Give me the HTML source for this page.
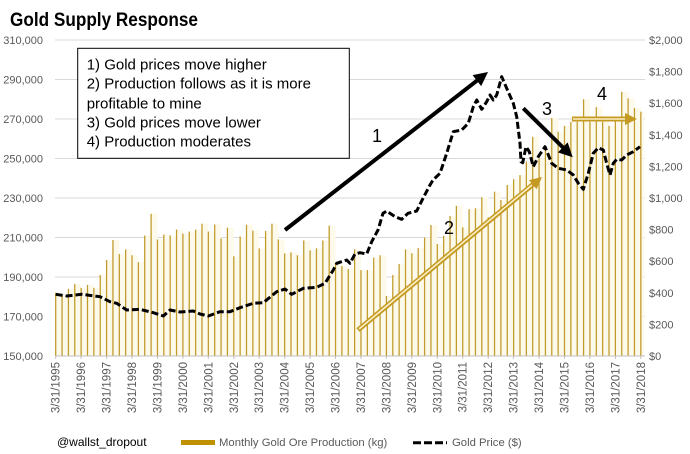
<!DOCTYPE html>
<html><head><meta charset="utf-8"><style>
html,body{margin:0;padding:0;background:#fff;}
svg{display:block;}
text{font-family:"Liberation Sans",sans-serif;}
</style></head><body>
<svg width="690" height="454" viewBox="0 0 690 454" xmlns="http://www.w3.org/2000/svg">
<rect width="690" height="454" fill="#fff"/>
<text x="10" y="26" font-size="19" font-weight="bold" fill="#000" textLength="188" lengthAdjust="spacingAndGlyphs">Gold Supply Response</text>
<g stroke="#d9d9d9" stroke-width="1">
<line x1="55" y1="40" x2="645" y2="40"/><line x1="55" y1="79.5" x2="645" y2="79.5"/><line x1="55" y1="119" x2="645" y2="119"/><line x1="55" y1="158.5" x2="645" y2="158.5"/><line x1="55" y1="198" x2="645" y2="198"/><line x1="55" y1="237.5" x2="645" y2="237.5"/><line x1="55" y1="277" x2="645" y2="277"/><line x1="55" y1="316.5" x2="645" y2="316.5"/><line x1="55" y1="356" x2="645" y2="356"/>
</g>
<g transform="translate(55.7,356) scale(6.36,-1.975)">
<g fill="#fefaeb">
<rect x="0" width="1" height="32"/><rect x="1" width="1" height="31"/><rect x="2" width="1" height="34"/><rect x="3" width="1" height="36.5"/><rect x="4" width="1" height="34.5"/><rect x="5" width="1" height="36"/><rect x="6" width="1" height="34.5"/><rect x="7" width="1" height="41"/><rect x="8" width="1" height="48.6"/><rect x="9" width="1" height="58.7"/><rect x="10" width="1" height="51.6"/><rect x="11" width="1" height="54"/><rect x="12" width="1" height="51"/><rect x="13" width="1" height="47.5"/><rect x="14" width="1" height="61"/><rect x="15" width="1" height="72"/><rect x="16" width="1" height="59"/><rect x="17" width="1" height="61.5"/><rect x="18" width="1" height="61"/><rect x="19" width="1" height="64"/><rect x="20" width="1" height="62"/><rect x="21" width="1" height="63"/><rect x="22" width="1" height="64"/><rect x="23" width="1" height="67"/><rect x="24" width="1" height="63"/><rect x="25" width="1" height="66.6"/><rect x="26" width="1" height="59.5"/><rect x="27" width="1" height="65"/><rect x="28" width="1" height="50.5"/><rect x="29" width="1" height="60.5"/><rect x="30" width="1" height="66.5"/><rect x="31" width="1" height="63.5"/><rect x="32" width="1" height="54.5"/><rect x="33" width="1" height="63.3"/><rect x="34" width="1" height="67"/><rect x="35" width="1" height="59"/><rect x="36" width="1" height="52"/><rect x="37" width="1" height="52.5"/><rect x="38" width="1" height="51"/><rect x="39" width="1" height="58.5"/><rect x="40" width="1" height="53.5"/><rect x="41" width="1" height="54.5"/><rect x="42" width="1" height="58.5"/><rect x="43" width="1" height="66"/><rect x="44" width="1" height="46.5"/><rect x="45" width="1" height="45.5"/><rect x="46" width="1" height="44"/><rect x="47" width="1" height="54"/><rect x="48" width="1" height="43.5"/><rect x="49" width="1" height="43.5"/><rect x="50" width="1" height="49.8"/><rect x="51" width="1" height="51"/><rect x="52" width="1" height="30.4"/><rect x="53" width="1" height="41"/><rect x="54" width="1" height="46.6"/><rect x="55" width="1" height="54"/><rect x="56" width="1" height="52"/><rect x="57" width="1" height="54.6"/><rect x="58" width="1" height="60"/><rect x="59" width="1" height="66.3"/><rect x="60" width="1" height="56.7"/><rect x="61" width="1" height="60.8"/><rect x="62" width="1" height="70.9"/><rect x="63" width="1" height="76"/><rect x="64" width="1" height="65.2"/><rect x="65" width="1" height="74.3"/><rect x="66" width="1" height="74.8"/><rect x="67" width="1" height="80.4"/><rect x="68" width="1" height="70.2"/><rect x="69" width="1" height="83.2"/><rect x="70" width="1" height="79"/><rect x="71" width="1" height="86.6"/><rect x="72" width="1" height="89.5"/><rect x="73" width="1" height="91.6"/><rect x="74" width="1" height="98.4"/><rect x="75" width="1" height="111"/><rect x="76" width="1" height="100"/><rect x="77" width="1" height="106"/><rect x="78" width="1" height="120.5"/><rect x="79" width="1" height="113.6"/><rect x="80" width="1" height="116.5"/><rect x="81" width="1" height="118.6"/><rect x="82" width="1" height="118.6"/><rect x="83" width="1" height="130"/><rect x="84" width="1" height="118.6"/><rect x="85" width="1" height="126"/><rect x="86" width="1" height="118.6"/><rect x="87" width="1" height="116.5"/><rect x="88" width="1" height="119.5"/><rect x="89" width="1" height="133.8"/><rect x="90" width="1" height="130.5"/><rect x="91" width="1" height="125.6"/><rect x="92" width="0.5" height="123.7"/>
</g>
<g fill="#c09a2a">
<rect x="-0.1" width="0.2" height="32"/><rect x="0.9" width="0.2" height="31"/><rect x="1.9" width="0.2" height="34"/><rect x="2.9" width="0.2" height="36.5"/><rect x="3.9" width="0.2" height="34.5"/><rect x="4.9" width="0.2" height="36"/><rect x="5.9" width="0.2" height="34.5"/><rect x="6.9" width="0.2" height="41"/><rect x="7.9" width="0.2" height="48.6"/><rect x="8.9" width="0.2" height="58.7"/><rect x="9.9" width="0.2" height="51.6"/><rect x="10.9" width="0.2" height="54"/><rect x="11.9" width="0.2" height="51"/><rect x="12.9" width="0.2" height="47.5"/><rect x="13.9" width="0.2" height="61"/><rect x="14.9" width="0.2" height="72"/><rect x="15.9" width="0.2" height="59"/><rect x="16.9" width="0.2" height="61.5"/><rect x="17.9" width="0.2" height="61"/><rect x="18.9" width="0.2" height="64"/><rect x="19.9" width="0.2" height="62"/><rect x="20.9" width="0.2" height="63"/><rect x="21.9" width="0.2" height="64"/><rect x="22.9" width="0.2" height="67"/><rect x="23.9" width="0.2" height="63"/><rect x="24.9" width="0.2" height="66.6"/><rect x="25.9" width="0.2" height="59.5"/><rect x="26.9" width="0.2" height="65"/><rect x="27.9" width="0.2" height="50.5"/><rect x="28.9" width="0.2" height="60.5"/><rect x="29.9" width="0.2" height="66.5"/><rect x="30.9" width="0.2" height="63.5"/><rect x="31.9" width="0.2" height="54.5"/><rect x="32.9" width="0.2" height="63.3"/><rect x="33.9" width="0.2" height="67"/><rect x="34.9" width="0.2" height="59"/><rect x="35.9" width="0.2" height="52"/><rect x="36.9" width="0.2" height="52.5"/><rect x="37.9" width="0.2" height="51"/><rect x="38.9" width="0.2" height="58.5"/><rect x="39.9" width="0.2" height="53.5"/><rect x="40.9" width="0.2" height="54.5"/><rect x="41.9" width="0.2" height="58.5"/><rect x="42.9" width="0.2" height="66"/><rect x="43.9" width="0.2" height="46.5"/><rect x="44.9" width="0.2" height="45.5"/><rect x="45.9" width="0.2" height="44"/><rect x="46.9" width="0.2" height="54"/><rect x="47.9" width="0.2" height="43.5"/><rect x="48.9" width="0.2" height="43.5"/><rect x="49.9" width="0.2" height="49.8"/><rect x="50.9" width="0.2" height="51"/><rect x="51.9" width="0.2" height="30.4"/><rect x="52.9" width="0.2" height="41"/><rect x="53.9" width="0.2" height="46.6"/><rect x="54.9" width="0.2" height="54"/><rect x="55.9" width="0.2" height="52"/><rect x="56.9" width="0.2" height="54.6"/><rect x="57.9" width="0.2" height="60"/><rect x="58.9" width="0.2" height="66.3"/><rect x="59.9" width="0.2" height="56.7"/><rect x="60.9" width="0.2" height="60.8"/><rect x="61.9" width="0.2" height="70.9"/><rect x="62.9" width="0.2" height="76"/><rect x="63.9" width="0.2" height="65.2"/><rect x="64.9" width="0.2" height="74.3"/><rect x="65.9" width="0.2" height="74.8"/><rect x="66.9" width="0.2" height="80.4"/><rect x="67.9" width="0.2" height="70.2"/><rect x="68.9" width="0.2" height="83.2"/><rect x="69.9" width="0.2" height="79"/><rect x="70.9" width="0.2" height="86.6"/><rect x="71.9" width="0.2" height="89.5"/><rect x="72.9" width="0.2" height="91.6"/><rect x="73.9" width="0.2" height="98.4"/><rect x="74.9" width="0.2" height="111"/><rect x="75.9" width="0.2" height="100"/><rect x="76.9" width="0.2" height="106"/><rect x="77.9" width="0.2" height="120.5"/><rect x="78.9" width="0.2" height="113.6"/><rect x="79.9" width="0.2" height="116.5"/><rect x="80.9" width="0.2" height="118.6"/><rect x="81.9" width="0.2" height="118.6"/><rect x="82.9" width="0.2" height="130"/><rect x="83.9" width="0.2" height="118.6"/><rect x="84.9" width="0.2" height="126"/><rect x="85.9" width="0.2" height="118.6"/><rect x="86.9" width="0.2" height="116.5"/><rect x="87.9" width="0.2" height="119.5"/><rect x="88.9" width="0.2" height="133.8"/><rect x="89.9" width="0.2" height="130.5"/><rect x="90.9" width="0.2" height="125.6"/><rect x="91.9" width="0.2" height="123.7"/>
</g>
</g>
<!-- x ticks -->
<g stroke="#bfbfbf" stroke-width="1">
<line x1="55" y1="356" x2="645" y2="356"/>
<line x1="55.7" y1="356" x2="55.7" y2="359"/><line x1="81.1" y1="356" x2="81.1" y2="359"/><line x1="106.6" y1="356" x2="106.6" y2="359"/><line x1="132" y1="356" x2="132" y2="359"/><line x1="157.5" y1="356" x2="157.5" y2="359"/><line x1="182.9" y1="356" x2="182.9" y2="359"/><line x1="208.3" y1="356" x2="208.3" y2="359"/><line x1="233.8" y1="356" x2="233.8" y2="359"/><line x1="259.2" y1="356" x2="259.2" y2="359"/><line x1="284.7" y1="356" x2="284.7" y2="359"/><line x1="310.1" y1="356" x2="310.1" y2="359"/><line x1="335.5" y1="356" x2="335.5" y2="359"/><line x1="361" y1="356" x2="361" y2="359"/><line x1="386.4" y1="356" x2="386.4" y2="359"/><line x1="411.9" y1="356" x2="411.9" y2="359"/><line x1="437.3" y1="356" x2="437.3" y2="359"/><line x1="462.7" y1="356" x2="462.7" y2="359"/><line x1="488.2" y1="356" x2="488.2" y2="359"/><line x1="513.6" y1="356" x2="513.6" y2="359"/><line x1="539.1" y1="356" x2="539.1" y2="359"/><line x1="564.5" y1="356" x2="564.5" y2="359"/><line x1="589.9" y1="356" x2="589.9" y2="359"/><line x1="615.4" y1="356" x2="615.4" y2="359"/><line x1="640.8" y1="356" x2="640.8" y2="359"/>
</g>
<!-- gold arrow 2 -->
<line x1="358" y1="330" x2="533.5" y2="184" stroke="#c49a22" stroke-width="5"/>
<line x1="359" y1="329" x2="532" y2="185" stroke="#fbf0c8" stroke-width="1.6"/>
<polygon points="542,177 536.6,189.3 529,180.1" fill="#c49a22"/>
<!-- gold arrow 4 -->
<line x1="572" y1="119" x2="626" y2="119" stroke="#c49a22" stroke-width="5"/>
<line x1="573" y1="119" x2="625" y2="119" stroke="#fbf0c8" stroke-width="1.6"/>
<polygon points="637,119 625,113 625,125" fill="#c49a22"/>
<!-- price line -->
<polyline fill="none" stroke="#000" stroke-width="3" stroke-dasharray="7 3" stroke-linejoin="round" points="55.7,294.3 66.7,296 81.7,294.3 100,296.7 110,301.7 116.7,303.3 126.7,310 140,309.3 153.3,312.7 163.3,316 170,310 180,312 193.3,311 200,314 208.3,316 220,311.7 230,311.7 240,307.7 253.3,303.3 263.3,302.7 276.7,291.7 285,289 291.7,294.3 303.3,288.3 316.7,287.3 325,283.3 333.3,270 336.7,263.3 346.7,260 350,263.3 355,254 360,252.7 366.7,254 371.7,241.7 378,230 383,213.3 386.7,211 395,216.7 401.7,219.3 408,213.3 416.7,211 423,198.3 430,185 433,180 440,173.3 446.7,153.3 453.3,131.7 461.7,130 468.3,123.3 473.3,106.7 476.7,100 481.7,109.3 486.7,101.7 490,95 493.3,100 496.7,95 501.7,76.7 506.7,88.3 513.3,103.3 516.7,116.7 520,143.3 521,161.7 522.7,162.7 526,146.7 529.3,151.7 533.3,166.7 538.3,156.7 545,146.7 551.7,163.3 558.3,168.3 566.7,170 573.3,175 578.3,183.3 583.3,189.3 588.3,173.3 593.3,153.3 598.3,147.7 603.3,150 606.7,163.3 610,175 613.3,163.3 616.7,159.3 621.7,160 626.7,155 633.3,151.7 640,146.7"/>
<!-- black arrows -->
<line x1="285" y1="230" x2="477.5" y2="80.2" stroke="#000" stroke-width="4"/>
<polygon points="488,72 481.2,86.1 472.6,75.1" fill="#000"/>
<line x1="523.3" y1="108.3" x2="563.5" y2="148" stroke="#000" stroke-width="4"/>
<polygon points="572.7,157.3 567.7,142.4 557.9,152.4" fill="#000"/>
<g font-size="18" fill="#000" text-anchor="middle">
<text x="377" y="142">1</text>
<text x="449" y="234">2</text>
<text x="547" y="115">3</text>
<text x="602" y="100">4</text>
</g>
<!-- text box -->
<rect x="77.7" y="48.3" width="271.6" height="110" fill="#fff" stroke="#000" stroke-width="1"/>
<g font-size="15" fill="#000">
<text x="86.7" y="69.3">1) Gold prices move higher</text>
<text x="86.7" y="88.5">2) Production follows as it is more</text>
<text x="86.7" y="108.3">profitable to mine</text>
<text x="86.7" y="127.7">3) Gold prices move lower</text>
<text x="86.7" y="146.7">4) Production moderates</text>
</g>
<!-- left axis -->
<g font-size="11" fill="#595959" text-anchor="end">
<text x="43" y="44">310,000</text><text x="43" y="83.5">290,000</text><text x="43" y="123">270,000</text><text x="43" y="162.5">250,000</text><text x="43" y="202">230,000</text><text x="43" y="241.5">210,000</text><text x="43" y="281">190,000</text><text x="43" y="320.5">170,000</text><text x="43" y="360">150,000</text>
</g>
<g font-size="11" fill="#595959">
<text x="649" y="44">$2,000</text><text x="649" y="75.6">$1,800</text><text x="649" y="107.2">$1,600</text><text x="649" y="138.8">$1,400</text><text x="649" y="170.4">$1,200</text><text x="649" y="202">$1,000</text><text x="649" y="233.6">$800</text><text x="649" y="265.2">$600</text><text x="649" y="296.8">$400</text><text x="649" y="328.4">$200</text><text x="649" y="360">$0</text>
</g>
<!-- x labels -->
<g font-size="11.5" fill="#595959" text-anchor="end">
<text transform="translate(59.7,362) rotate(-90)">3/31/1995</text>
<text transform="translate(85.1,362) rotate(-90)">3/31/1996</text>
<text transform="translate(110.6,362) rotate(-90)">3/31/1997</text>
<text transform="translate(136,362) rotate(-90)">3/31/1998</text>
<text transform="translate(161.5,362) rotate(-90)">3/31/1999</text>
<text transform="translate(186.9,362) rotate(-90)">3/31/2000</text>
<text transform="translate(212.3,362) rotate(-90)">3/31/2001</text>
<text transform="translate(237.8,362) rotate(-90)">3/31/2002</text>
<text transform="translate(263.2,362) rotate(-90)">3/31/2003</text>
<text transform="translate(288.7,362) rotate(-90)">3/31/2004</text>
<text transform="translate(314.1,362) rotate(-90)">3/31/2005</text>
<text transform="translate(339.5,362) rotate(-90)">3/31/2006</text>
<text transform="translate(365,362) rotate(-90)">3/31/2007</text>
<text transform="translate(390.4,362) rotate(-90)">3/31/2008</text>
<text transform="translate(415.9,362) rotate(-90)">3/31/2009</text>
<text transform="translate(441.3,362) rotate(-90)">3/31/2010</text>
<text transform="translate(466.7,362) rotate(-90)">3/31/2011</text>
<text transform="translate(492.2,362) rotate(-90)">3/31/2012</text>
<text transform="translate(517.6,362) rotate(-90)">3/31/2013</text>
<text transform="translate(543.1,362) rotate(-90)">3/31/2014</text>
<text transform="translate(568.5,362) rotate(-90)">3/31/2015</text>
<text transform="translate(593.9,362) rotate(-90)">3/31/2016</text>
<text transform="translate(619.4,362) rotate(-90)">3/31/2017</text>
<text transform="translate(644.8,362) rotate(-90)">3/31/2018</text>
</g>
<!-- legend -->
<text x="57" y="446" font-size="12" fill="#000">@wallst_dropout</text>
<rect x="181" y="440" width="34" height="5" fill="#bf9000"/>
<text x="219" y="446" font-size="11.3" fill="#595959">Monthly Gold Ore Production (kg)</text>
<line x1="413" y1="442.7" x2="447" y2="442.7" stroke="#000" stroke-width="3" stroke-dasharray="8 3"/>
<text x="452" y="446" font-size="11.3" fill="#595959">Gold Price ($)</text>
</svg>
</body></html>
